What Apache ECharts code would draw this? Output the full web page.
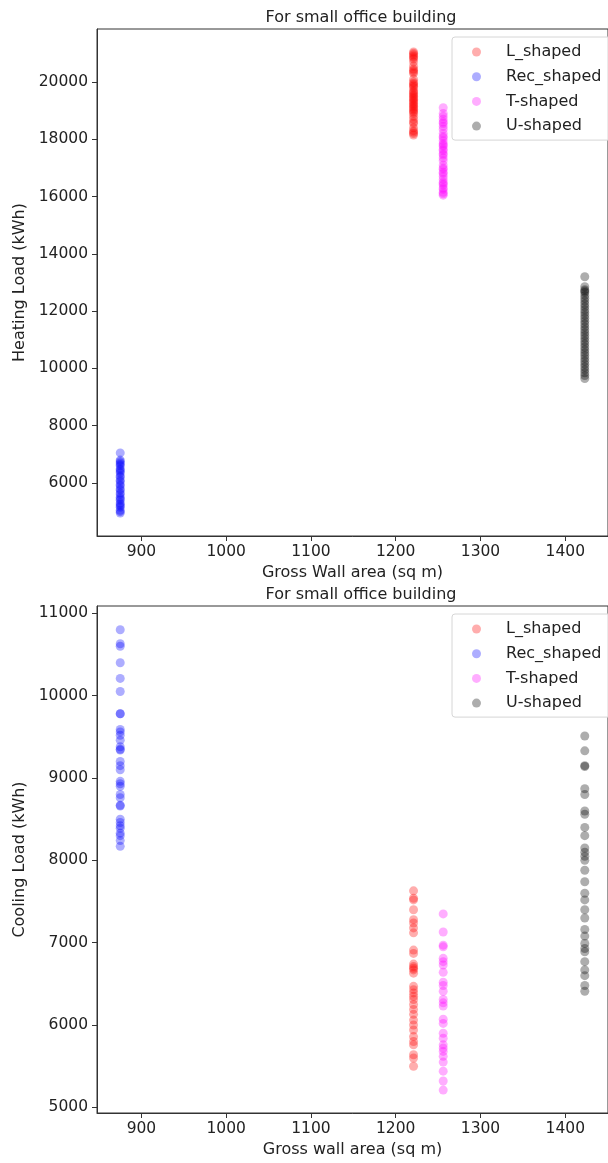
<!DOCTYPE html>
<html>
<head>
<meta charset="utf-8">
<script src="https://cdn.jsdelivr.net/npm/echarts@6/dist/echarts.min.js"></script>
<style>
  html, body { margin: 0; padding: 0; background: #fff; }
  #chart { width: 608px; height: 1163px; }
</style>
</head>
<body>
<div id="chart"></div>
<script>
// wall area of each building shape (sq m)
const shapes = ['L_shaped', 'Rec_shaped', 'T-shaped', 'U-shaped'];
const wallArea = [1221, 875, 1256, 1423];
const colors = ['rgba(255,0,0,0.4)', 'rgba(0,0,255,0.4)', 'rgba(255,0,255,0.4)', 'rgba(0,0,0,0.4)'];

// heating load (kWh)
const heatL = [21050, 21000, 20950, 20900, 20850, 20800, 20700, 20550, 20450, 20400, 20350, 20300, 20100, 20000, 19950, 19900, 19850, 19800, 19700, 19650, 19600, 19550, 19500, 19450, 19400, 19350, 19300, 19250, 19200, 19150, 19100, 19050, 19000, 18950, 18900, 18800, 18700, 18600, 18550, 18400, 18300, 18250, 18200, 18150];
const heatRec = [7050, 6800, 6750, 6700, 6650, 6600, 6500, 6450, 6400, 6350, 6250, 6200, 6100, 6050, 5950, 5900, 5800, 5750, 5650, 5600, 5500, 5450, 5400, 5300, 5250, 5200, 5150, 5050, 5000, 4950];
const heatT = [19100, 18900, 18800, 18700, 18600, 18550, 18450, 18350, 18200, 18100, 18050, 17950, 17850, 17800, 17750, 17650, 17600, 17500, 17450, 17350, 17250, 17100, 17000, 16950, 16850, 16800, 16700, 16600, 16500, 16450, 16400, 16300, 16250, 16150, 16100, 16050];
const heatU = [13200, 12850, 12750, 12700, 12650, 12550, 12450, 12350, 12250, 12150, 12050, 11950, 11850, 11750, 11650, 11550, 11450, 11350, 11250, 11150, 11050, 10950, 10850, 10750, 10650, 10550, 10450, 10350, 10250, 10150, 10050, 9950, 9850, 9750, 9650];

// cooling load (kWh)
const coolL = [7630, 7540, 7520, 7400, 7280, 7240, 7180, 7120, 6910, 6870, 6740, 6710, 6690, 6670, 6630, 6470, 6430, 6390, 6350, 6310, 6250, 6190, 6130, 6060, 6000, 5940, 5860, 5800, 5760, 5640, 5600, 5500];
const coolRec = [10800, 10630, 10600, 10400, 10210, 10050, 9780, 9780, 9590, 9560, 9520, 9460, 9380, 9350, 9340, 9200, 9150, 9100, 8960, 8930, 8900, 8800, 8760, 8670, 8660, 8500, 8460, 8420, 8390, 8330, 8300, 8240, 8170];
const coolT = [7350, 7130, 6970, 6950, 6810, 6770, 6730, 6640, 6520, 6480, 6410, 6310, 6270, 6230, 6070, 6020, 5900, 5840, 5760, 5720, 5680, 5620, 5550, 5440, 5320, 5210];
const coolU = [9510, 9330, 9150, 9140, 8870, 8800, 8600, 8560, 8400, 8300, 8150, 8100, 8050, 8000, 7880, 7740, 7600, 7520, 7400, 7300, 7160, 7080, 6990, 6930, 6890, 6770, 6670, 6600, 6480, 6410];

// tick labels
const xTicks = [900, 1000, 1100, 1200, 1300, 1400];
const heatTicks = [6000, 8000, 10000, 12000, 14000, 16000, 18000, 20000];
const coolTicks = [5000, 6000, 7000, 8000, 9000, 10000, 11000];

const heatSets = [heatL, heatRec, heatT, heatU];
const coolSets = [coolL, coolRec, coolT, coolU];

const font = 'DejaVu Sans';
const ink = '#222';
const spine = '#333';
const plain = function (v) { return String(v); };

function xAxisFor(gridIndex, name) {
  return {
    type: 'value', gridIndex: gridIndex, min: 847.6, max: 1450.4,
    name: name, nameLocation: 'middle', nameGap: 29,
    nameTextStyle: { fontFamily: font, fontSize: 16, color: ink },
    axisLine: { show: true, lineStyle: { color: spine, width: 1 } },
    axisTick: { show: true, length: 5, customValues: xTicks, lineStyle: { color: spine } },
    axisLabel: { customValues: xTicks, formatter: plain, margin: 8, fontFamily: font, fontSize: 15.5, color: ink },
    splitLine: { show: false }
  };
}

function yAxisFor(gridIndex, name, min, max, ticks) {
  return {
    type: 'value', gridIndex: gridIndex, min: min, max: max,
    name: name, nameLocation: 'middle', nameGap: 60,
    nameTextStyle: { fontFamily: font, fontSize: 16, color: ink },
    axisLine: { show: true, lineStyle: { color: spine, width: 1 } },
    axisTick: { show: true, length: 5, customValues: ticks, lineStyle: { color: spine } },
    axisLabel: { customValues: ticks, formatter: plain, margin: 9, fontFamily: font, fontSize: 15.5, color: ink },
    splitLine: { show: false }
  };
}

function legendAt(top) {
  return {
    orient: 'vertical', left: 452, top: top,
    data: shapes,
    padding: [7, 40, 6, 20],
    itemWidth: 9, itemHeight: 9, itemGap: 8.7,
    icon: 'circle',
    borderColor: '#d6d6d6', borderWidth: 1, borderRadius: 3,
    backgroundColor: 'rgba(255,255,255,0.8)',
    textStyle: { fontFamily: font, fontSize: 16, color: ink, lineHeight: 16, padding: [0, 0, 0, 20] }
  };
}

const series = [];
[heatSets, coolSets].forEach(function (sets, g) {
  sets.forEach(function (vals, i) {
    series.push({
      type: 'scatter', name: shapes[i],
      xAxisIndex: g, yAxisIndex: g,
      symbol: 'circle', symbolSize: 9,
      itemStyle: { color: colors[i] },
      data: vals.map(function (v) { return [wallArea[i], v]; })
    });
  });
});

const chart = echarts.init(document.getElementById('chart'), null, { renderer: 'canvas' });
chart.setOption({
  animation: false,
  backgroundColor: '#fff',
  title: [
    { text: 'For small office building', left: 356, top: 5, textAlign: 'center',
      textStyle: { fontFamily: font, fontSize: 16, fontWeight: 'normal', color: ink } },
    { text: 'For small office building', left: 356, top: 582, textAlign: 'center',
      textStyle: { fontFamily: font, fontSize: 16, fontWeight: 'normal', color: ink } }
  ],
  legend: [legendAt(37), legendAt(614)],
  grid: [
    { left: 97, top: 29, height: 507, right: -8, show: true, borderColor: spine, borderWidth: 1 },
    { left: 97, top: 606, height: 507, right: -8, show: true, borderColor: spine, borderWidth: 1 }
  ],
  xAxis: [xAxisFor(0, 'Gross Wall area (sq m)'), xAxisFor(1, 'Gross wall area (sq m)')],
  yAxis: [
    yAxisFor(0, 'Heating Load (kWh)', 4150, 21850, heatTicks),
    yAxisFor(1, 'Cooling Load (kWh)', 4932, 11089, coolTicks)
  ],
  series: series
});
</script>
</body>
</html>
